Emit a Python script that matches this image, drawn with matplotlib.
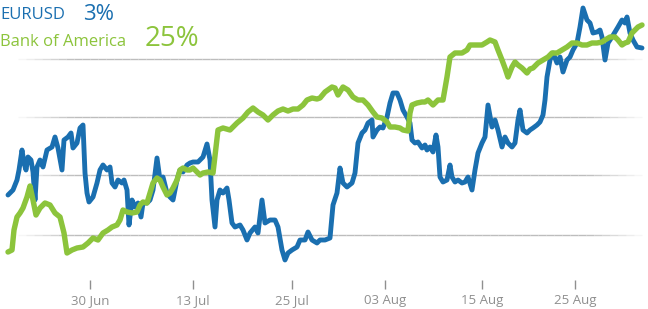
import numpy as np
import matplotlib
matplotlib.use("Agg")
import matplotlib.pyplot as plt
from matplotlib.collections import LineCollection

BLUE = "#1a6fb0"
GREEN = "#8cc43c"
TICK = "#8f8f8f"

# chart positions (session steps) and levels
eurusd_x = [8, 13, 17, 19, 22, 24, 26, 28, 31, 33, 35, 37, 40, 43, 47, 52, 55, 58, 62, 64,
            68, 71, 73, 77, 80, 83, 85, 87, 89, 93, 97, 100, 103, 107, 110, 112, 115, 118, 122, 124,
            127, 129, 132, 135, 138, 141, 143, 147, 150, 153, 157, 160, 163, 167, 170, 173, 177, 180, 183, 187,
            190, 193, 198, 203, 207, 210, 212, 215, 217, 220, 223, 227, 229, 232, 235, 240, 243, 247, 250, 255,
            258, 262, 265, 270, 275, 278, 282, 285, 288, 292, 297, 300, 305, 308, 312, 317, 320, 325, 330, 333,
            337, 340, 343, 347, 352, 355, 358, 362, 365, 368, 372, 373, 377, 380, 383, 387, 390, 393, 397, 400,
            403, 407, 410, 412, 415, 418, 422, 425, 427, 430, 433, 436, 438, 440, 443, 447, 450, 452, 455, 458,
            462, 465, 468, 472, 475, 478, 482, 485, 488, 492, 495, 498, 502, 505, 508, 512, 515, 518, 520, 523,
            527, 530, 533, 537, 540, 543, 545, 547, 550, 553, 557, 560, 563, 567, 570, 573, 577, 580, 583, 587,
            590, 593, 597, 600, 602, 605, 608, 612, 615, 618, 622, 625, 627, 630, 633, 637, 642]
eurusd = [75, 80, 90, 100, 120, 107, 100, 113, 110, 98, 70, 103, 110, 103, 120, 123, 133, 122, 100, 130,
          133, 137, 122, 127, 142, 145, 97, 77, 68, 73, 87, 100, 105, 100, 103, 87, 83, 90, 87, 90,
          80, 45, 70, 63, 67, 53, 67, 67, 70, 80, 112, 90, 93, 77, 73, 70, 90, 100, 98, 105,
          107, 108, 108, 113, 126, 110, 70, 43, 70, 80, 77, 82, 70, 47, 43, 45, 40, 30, 37, 43,
          37, 70, 47, 50, 50, 43, 20, 10, 17, 20, 23, 30, 30, 38, 30, 27, 30, 30, 32, 65,
          77, 102, 87, 83, 87, 97, 127, 137, 140, 147, 150, 133, 140, 143, 142, 153, 167, 177, 177, 170,
          160, 153, 147, 130, 127, 128, 122, 125, 120, 123, 118, 135, 123, 93, 88, 90, 105, 93, 88, 90,
          87, 88, 93, 80, 100, 117, 127, 133, 165, 143, 150, 140, 123, 133, 127, 123, 127, 150, 160, 140,
          137, 140, 142, 145, 148, 155, 170, 193, 210, 217, 207, 213, 198, 210, 213, 220, 227, 243, 262, 250,
          247, 237, 238, 240, 233, 210, 227, 233, 238, 243, 250, 247, 253, 237, 230, 223, 222]

bac_x = [8, 12, 14, 17, 20, 23, 27, 30, 33, 36, 40, 45, 50, 55, 60, 64, 67, 72, 77, 83,
         88, 93, 98, 103, 108, 112, 117, 120, 123, 127, 132, 137, 140, 143, 147, 150, 153, 157, 160, 163,
         167, 170, 173, 177, 180, 183, 187, 190, 193, 197, 200, 203, 208, 213, 216, 218, 223, 230, 237, 243,
         248, 253, 258, 263, 268, 273, 278, 283, 288, 293, 298, 303, 307, 312, 317, 320, 325, 332, 335, 338,
         343, 348, 353, 358, 363, 368, 373, 377, 382, 387, 390, 395, 400, 403, 408, 410, 412, 417, 422, 425,
         428, 433, 438, 443, 447, 450, 455, 462, 467, 470, 475, 482, 487, 490, 495, 498, 502, 505, 508, 512,
         515, 518, 522, 527, 530, 533, 538, 543, 548, 552, 557, 562, 567, 572, 577, 582, 587, 592, 597, 602,
         605, 610, 615, 618, 622, 625, 628, 632, 635, 638, 642]
bac = [18, 20, 40, 53, 57, 62, 73, 84, 70, 55, 62, 67, 65, 57, 53, 37, 17, 20, 22, 23,
       27, 32, 30, 37, 40, 43, 45, 50, 60, 58, 57, 58, 65, 68, 67, 77, 87, 92, 90, 83,
       75, 77, 82, 90, 100, 102, 100, 100, 102, 98, 95, 97, 98, 97, 123, 140, 142, 140, 147, 152,
       158, 162, 158, 155, 150, 155, 159, 161, 159, 161, 161, 165, 170, 172, 171, 172, 178, 183, 182, 175,
       183, 180, 173, 170, 170, 165, 158, 153, 152, 148, 143, 143, 142, 140, 139, 157, 165, 167, 168, 168,
       170, 165, 170, 170, 193, 213, 217, 217, 220, 225, 225, 225, 228, 230, 228, 220, 210, 202, 193, 203,
       208, 205, 202, 197, 201, 202, 207, 210, 213, 217, 217, 220, 223, 227, 227, 225, 225, 227, 227, 228,
       230, 233, 233, 230, 225, 227, 228, 237, 240, 243, 245]

grid_levels = [35, 95, 153, 211]
tick_pos = [90, 193, 292, 385, 482, 575]
tick_labels = ["30 Jun", "13 Jul", "25 Jul", "03 Aug", "15 Aug", "25 Aug"]

plt.rcParams["font.family"] = ["Open Sans", "DejaVu Sans"]

fig = plt.figure(figsize=(6.48, 3.09), dpi=100)
ax = fig.add_axes([0, 29 / 309, 1, 280 / 309])
ax.set_xlim(0, 648)
ax.set_ylim(-10, 270)

# faded grid lines
gx = np.linspace(10, 642, 80)
alpha = np.clip(np.minimum(gx - 10, 642 - gx) / 60, 0, 1)
for lev in grid_levels:
    segs = [[(gx[i], lev), (gx[i + 1], lev)] for i in range(len(gx) - 1)]
    cols = [(0.74, 0.74, 0.74, a) for a in alpha[:-1]]
    ax.add_collection(LineCollection(segs, colors=cols, linewidths=1.0, zorder=1))

ax.plot(eurusd_x, eurusd, color=BLUE, lw=3.5, solid_joinstyle="round",
        solid_capstyle="round", zorder=3)
ax.plot(bac_x, bac, color=GREEN, lw=3.9, solid_joinstyle="round",
        solid_capstyle="round", zorder=4)

for s in ax.spines.values():
    s.set_visible(False)
ax.set_yticks([])
ax.set_xticks(tick_pos)
ax.set_xticklabels(tick_labels)
ax.tick_params(axis="x", direction="out", length=6.5, width=1, color=TICK,
               labelcolor=TICK, labelsize=9.5, pad=3.5)

fig.text(0 / 648, 1 - 15 / 309, "EURUSD", color=BLUE, fontsize=12, va="center", ha="left")
fig.text(83 / 648, 1 - 14 / 309, "3%", color=BLUE, fontsize=16, va="center", ha="left")
fig.text(0 / 648, 1 - 42 / 309, "Bank of America", color=GREEN, fontsize=12, va="center", ha="left")
fig.text(145 / 648, 1 - 39 / 309, "25%", color=GREEN, fontsize=20, va="center", ha="left")

fig.savefig("out.png", dpi=100)
